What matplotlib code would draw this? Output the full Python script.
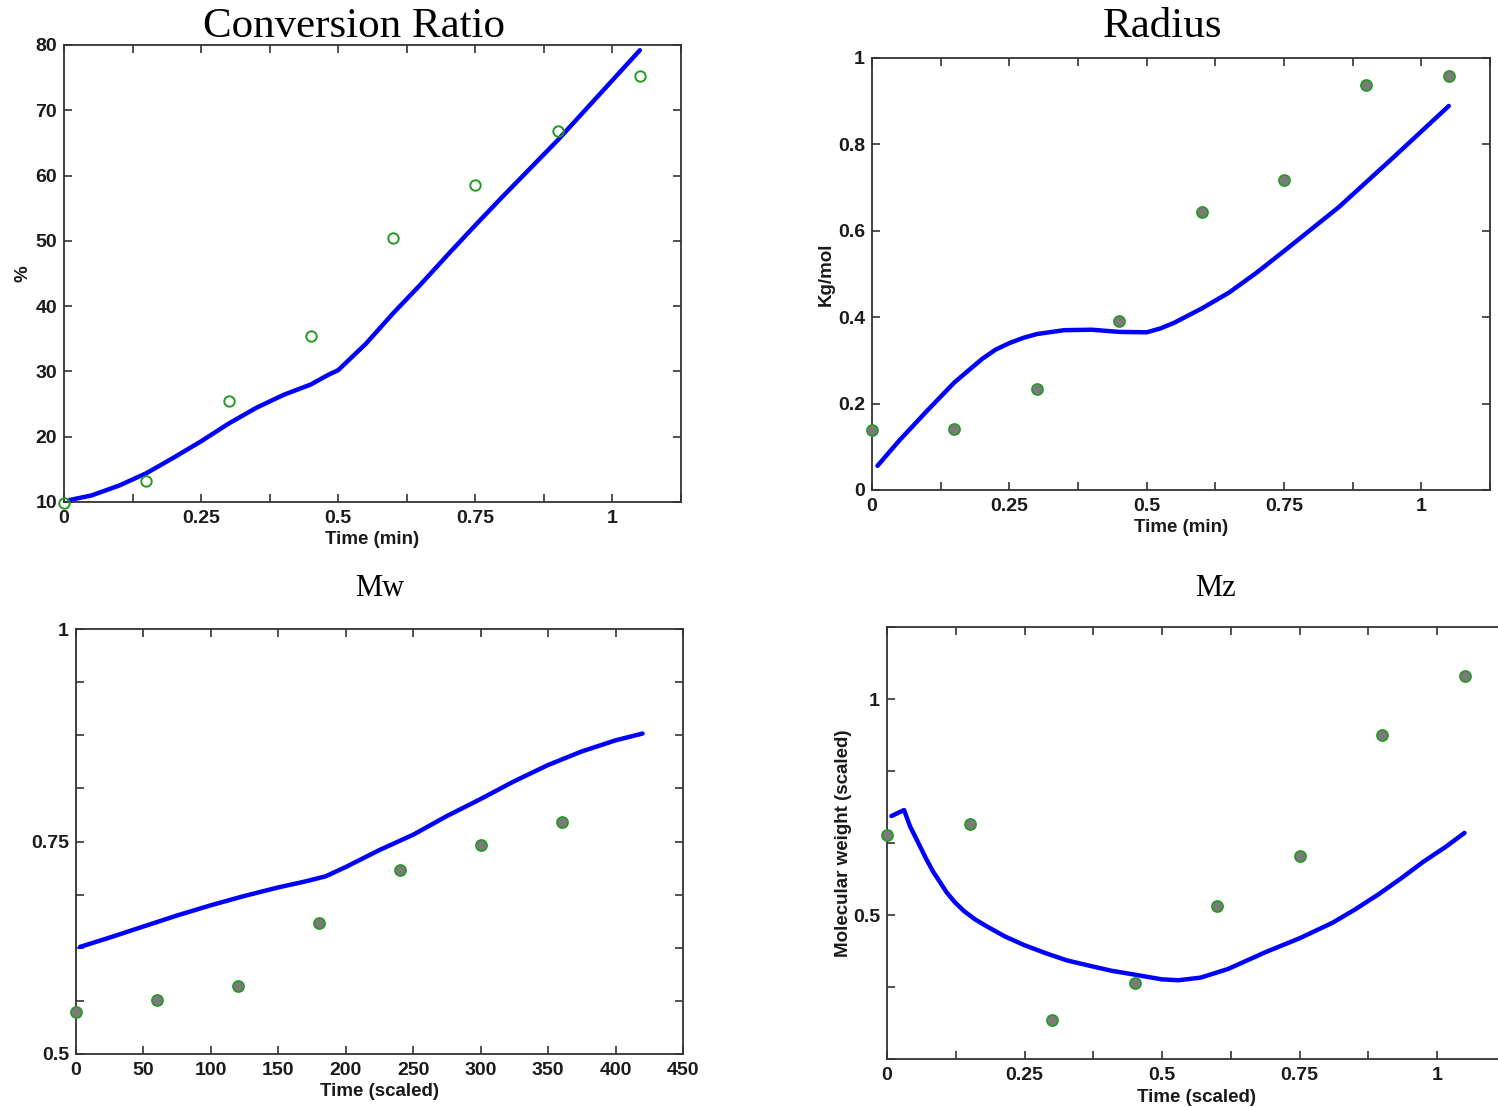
import matplotlib
matplotlib.use("Agg")
import matplotlib.pyplot as plt
import numpy as np
from matplotlib.ticker import FixedLocator, FuncFormatter

# ---------------- data ----------------
# Conversion Ratio
conv_exp_t = [0.0, 0.15, 0.30, 0.45, 0.60, 0.75, 0.90, 1.05]
conv_exp_y = [9.9, 13.2, 25.5, 35.4, 50.4, 58.5, 66.8, 75.2]
conv_mod_t = [0.01, 0.05, 0.10, 0.15, 0.20, 0.25, 0.30, 0.35, 0.40, 0.45, 0.48,
              0.50, 0.55, 0.60, 0.65, 0.70, 0.75, 0.80, 0.85, 0.90, 0.95, 1.00, 1.05]
conv_mod_y = [10.3, 11.0, 12.5, 14.4, 16.8, 19.3, 22.0, 24.4, 26.4, 28.0, 29.4,
              30.2, 34.2, 38.9, 43.3, 47.9, 52.4, 56.8, 61.1, 65.4, 70.0, 74.6, 79.2]

# Radius
rad_exp_t = [0.0, 0.15, 0.30, 0.45, 0.60, 0.75, 0.90, 1.05]
rad_exp_y = [0.139, 0.141, 0.234, 0.391, 0.644, 0.718, 0.937, 0.958]
rad_mod_t = [0.01, 0.05, 0.10, 0.15, 0.20, 0.225, 0.25, 0.275, 0.30, 0.35, 0.40, 0.45, 0.50,
             0.525, 0.55, 0.60, 0.65, 0.70, 0.75, 0.80, 0.85, 0.90, 0.95, 1.00, 1.05]
rad_mod_y = [0.056, 0.115, 0.183, 0.249, 0.303, 0.325, 0.340, 0.352, 0.361, 0.370, 0.371, 0.366, 0.365,
             0.374, 0.387, 0.420, 0.457, 0.503, 0.553, 0.604, 0.655, 0.713, 0.771, 0.830, 0.889]

# Mw
mw_exp_t = [0, 60, 120, 180, 240, 300, 360]
mw_exp_y = [0.549, 0.5635, 0.580, 0.654, 0.716, 0.746, 0.773]
mw_mod_t = [3, 25, 50, 75, 100, 125, 150, 170, 185, 200, 225, 250, 275, 300, 325, 350, 375, 400, 420]
mw_mod_y = [0.626, 0.637, 0.650, 0.663, 0.675, 0.686, 0.696, 0.703, 0.709, 0.720, 0.740, 0.758,
            0.780, 0.800, 0.821, 0.840, 0.856, 0.869, 0.877]

# Mz
mz_exp_t = [0.0, 0.15, 0.30, 0.45, 0.60, 0.75, 0.90, 1.05]
mz_exp_y = [0.685, 0.711, 0.257, 0.343, 0.521, 0.637, 0.917, 1.053]
mz_mod_t = [0.008, 0.031, 0.042, 0.055, 0.07, 0.084, 0.097, 0.108, 0.123, 0.14, 0.16, 0.181,
            0.215, 0.25, 0.29, 0.327, 0.37, 0.408, 0.45, 0.50,
            0.53, 0.57, 0.62, 0.69, 0.75, 0.81, 0.85, 0.895, 0.935, 0.976, 1.015, 1.05]
mz_mod_y = [0.729, 0.743, 0.705, 0.672, 0.633, 0.600, 0.575, 0.553, 0.530, 0.509, 0.490, 0.474,
            0.450, 0.430, 0.411, 0.395, 0.382, 0.371, 0.362, 0.351,
            0.349, 0.355, 0.375, 0.415, 0.446, 0.482, 0.512, 0.549, 0.585, 0.624, 0.657, 0.690]

# ---------------- style ----------------
W, H = 1498, 1107
fig = plt.figure(figsize=(W / 100, H / 100), dpi=100)
fig.patch.set_facecolor("white")

SANS = ["Liberation Sans Narrow", "Liberation Sans", "DejaVu Sans"]
LABELFONT = dict(family=SANS, weight="bold", size=13.5)
TITLEFONT = ["Liberation Serif", "DejaVu Serif"]
LINE_COLOR = "#0000ff"
GREEN = "#239b23"
GRAY = "#7a7a7a"
FRAME = "#333333"
TXT = "#1a1a1a"


def px_axes(l, t, r, b):
    return fig.add_axes([l / W, 1 - b / H, (r - l) / W, (b - t) / H])


def style(ax, xlim, ylim, xticks, xlabels, yticks, ylabels):
    ax.set_xlim(*xlim)
    ax.set_ylim(*ylim)
    ax.xaxis.set_major_locator(FixedLocator(xticks))
    ax.yaxis.set_major_locator(FixedLocator(yticks))
    xl = dict(zip([round(v, 6) for v in xticks], xlabels))
    yl = dict(zip([round(v, 6) for v in yticks], ylabels))
    ax.xaxis.set_major_formatter(FuncFormatter(lambda v, p: xl.get(round(v, 6), "")))
    ax.yaxis.set_major_formatter(FuncFormatter(lambda v, p: yl.get(round(v, 6), "")))
    ax.tick_params(direction="in", length=6, width=1.2, color=FRAME,
                   top=True, right=True)
    ax.tick_params(axis="x", pad=6)
    ax.tick_params(axis="y", pad=5)
    for lab in ax.get_xticklabels() + ax.get_yticklabels():
        lab.set_fontfamily(SANS)
        lab.set_fontweight("bold")
        lab.set_fontsize(14)
        lab.set_color(TXT)
    for s in ax.spines.values():
        s.set_color(FRAME)
        s.set_linewidth(1.3)


def fmt(v):
    return "%g" % v


# ---------------- Panel 1: Conversion Ratio ----------------
ax1 = px_axes(64, 45, 681, 502)
ax1.plot(conv_mod_t, conv_mod_y, color=LINE_COLOR, lw=3.2, solid_capstyle="round",
         solid_joinstyle="round", zorder=3)
ax1.plot(conv_exp_t, conv_exp_y, linestyle="none", marker="o", ms=7.5, mfc="none",
         mec=GREEN, mew=1.4, zorder=4, clip_on=False)
xt = list(np.arange(0, 1.126, 0.125))
xlab = [fmt(v) if abs(v / 0.25 - round(v / 0.25)) < 1e-6 else "" for v in xt]
yt = list(range(10, 81, 10))
style(ax1, (0, 1.125), (10, 80), xt, xlab, yt, [str(v) for v in yt])
ax1.set_xlabel("Time (min)", fontdict=LABELFONT, labelpad=3, color=TXT)
ax1.set_ylabel("%", fontdict=LABELFONT, color=TXT)
ax1.yaxis.set_label_coords((31 - 64) / 617, 0.5)
fig.text(354 / W, 1 - 27 / H, "Conversion Ratio", ha="center", va="center",
         family=TITLEFONT, fontsize=31)

# ---------------- Panel 2: Radius ----------------
ax2 = px_axes(872, 58, 1490, 490)
ax2.plot(rad_mod_t, rad_mod_y, color=LINE_COLOR, lw=3.2, solid_capstyle="round",
         solid_joinstyle="round", zorder=3)
ax2.plot(rad_exp_t, rad_exp_y, linestyle="none", marker="o", ms=8, mfc=GRAY,
         mec=GREEN, mew=1.2, zorder=4, clip_on=False)
yt2 = [0, 0.2, 0.4, 0.6, 0.8, 1.0]
style(ax2, (0, 1.125), (0, 1), xt, xlab, yt2, [fmt(v) for v in yt2])
ax2.set_xlabel("Time (min)", fontdict=LABELFONT, labelpad=3, color=TXT)
ax2.set_ylabel("Kg/mol", fontdict=LABELFONT, color=TXT)
ax2.yaxis.set_label_coords((835 - 872) / 618, 0.5)
fig.text(1163 / W, 1 - 27 / H, "Radius", ha="center", va="center",
         family=TITLEFONT, fontsize=31)

# ---------------- Panel 3: Mw ----------------
ax3 = px_axes(76, 629, 683, 1054)
ax3.plot(mw_mod_t, mw_mod_y, color=LINE_COLOR, lw=3.2, solid_capstyle="round",
         solid_joinstyle="round", zorder=3)
ax3.plot(mw_exp_t, mw_exp_y, linestyle="none", marker="o", ms=8, mfc=GRAY,
         mec=GREEN, mew=1.2, zorder=4, clip_on=False)
xt3 = list(range(0, 451, 50))
yt3 = list(np.arange(0.5, 1.0001, 0.0625))
ylab3 = {0.5: "0.5", 0.75: "0.75", 1.0: "1"}
style(ax3, (0, 450), (0.5, 1.0), xt3, [str(v) for v in xt3], yt3,
      [ylab3.get(round(v, 6), "") for v in yt3])
ax3.set_xlabel("Time (scaled)", fontdict=LABELFONT, labelpad=3, color=TXT)
fig.text(380 / W, 1 - 588 / H, "Mw", ha="center", va="center",
         family=TITLEFONT, fontsize=22)

# ---------------- Panel 4: Mz ----------------
ax4 = px_axes(887, 627, 887 + 1.125 * 550, 1059)
ax4.plot(mz_mod_t, mz_mod_y, color=LINE_COLOR, lw=3.2, solid_capstyle="round",
         solid_joinstyle="round", zorder=3)
ax4.plot(mz_exp_t, mz_exp_y, linestyle="none", marker="o", ms=8, mfc=GRAY,
         mec=GREEN, mew=1.2, zorder=4, clip_on=False)
yt4 = [k / 6 for k in range(1, 8)]
ylab4 = {0.5: "0.5", 1.0: "1"}
style(ax4, (0, 1.125), (1 / 6, 7 / 6), xt, xlab, yt4,
      [ylab4.get(round(v, 6), "") for v in yt4])
ax4.set_xlabel("Time (scaled)", fontdict=LABELFONT, labelpad=3, color=TXT)
ax4.set_ylabel("Molecular weight (scaled)", fontdict=LABELFONT, color=TXT)
ax4.yaxis.set_label_coords((852 - 887) / 619, 0.5)
fig.text(1215 / W, 1 - 588 / H, "Mz", ha="center", va="center",
         family=TITLEFONT, fontsize=22)

fig.savefig("out.png", dpi=100, facecolor="white")
